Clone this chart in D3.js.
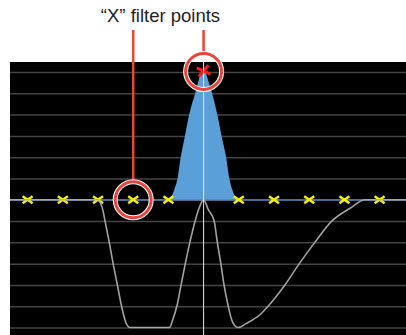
<!DOCTYPE html>
<html><head><meta charset="utf-8">
<script src="https://cdn.jsdelivr.net/npm/d3@7"></script>
<style>html,body{margin:0;padding:0;background:#fff;}svg{display:block;}</style>
</head><body>
<script>
// ---- data ----
const gridValues = [-6,-5,-4,-3,-2,-1,0,1,2,3,4,5,6];
const responseX = [-0.5, 2.0, 2.07, 2.14, 2.2, 2.32, 2.43, 2.55, 2.67, 2.8, 2.91, 4.03, 4.13, 4.24, 4.36, 4.48, 4.61, 4.76, 4.87, 5.0, 5.13, 5.3, 5.39, 5.49, 5.58, 5.7, 5.79, 5.88, 5.99, 6.22, 6.6, 6.83, 7.31, 7.72, 8.16, 8.64, 9.16, 9.59, 10.75];
const responseY = [0, 0, -0.15, -0.5, -1, -2, -3, -4, -5, -5.8, -6, -6, -5.6, -5, -4, -3, -2, -1, -0.4, 0, -0.45, -1, -2, -3, -4, -5, -5.6, -5.9, -6, -5.8, -5.4, -5, -4, -3, -2, -1, -0.4, 0, 0];
const bandX = [4.03, 4.09, 4.16, 4.26, 4.35, 4.47, 4.59, 4.76, 4.84, 4.94, 5.0, 5.05, 5.15, 5.24, 5.39, 5.51, 5.64, 5.73, 5.82, 5.89, 5.95];
const bandY = [0, 0.15, 0.45, 1, 2, 3, 4, 5, 5.5, 6, 6.1, 6, 5.5, 5, 4, 3, 2, 1, 0.45, 0.15, 0];
const pointX = [0,1,2,3,4,5,6,7,8,9,10];
const pointY = [0,0,0,0,0,6.05,0,0,0,0,0];
const highlighted = [3,5];
const titleText = "\u201CX\u201D filter points";

// ---- layout ----
const W = 406, H = 335;
const svg = d3.select("body").append("svg").attr("width", W).attr("height", H);
const x = d3.scaleLinear().domain([-0.5, 10.75]).range([10, 406]);
const y = d3.scaleLinear().domain([-6.35, 6.47]).range([335, 62]);

svg.append("rect").attr("x", x(-0.5)).attr("y", y(6.47))
  .attr("width", x(10.75)-x(-0.5)).attr("height", y(-6.35)-y(6.47)).attr("fill", "#000");

// gridlines
const gAxis = svg.append("g").attr("transform", `translate(${x(-0.5)},0)`)
  .call(d3.axisLeft(y).tickValues(gridValues).tickSize(-(x(10.75)-x(-0.5))).tickFormat(""));
gAxis.select(".domain").remove();
gAxis.selectAll(".tick line").attr("stroke", "#444").attr("stroke-width", 1.5);

// band area
const band = bandX.map((d,i)=>[d, bandY[i]]);
svg.append("path").datum(band)
  .attr("d", d3.area().x(d=>x(d[0])).y0(y(0)).y1(d=>y(d[1])).curve(d3.curveMonotoneX))
  .attr("fill", "#5a9fd8");
svg.append("line").attr("x1", x(-0.5)).attr("x2", x(10.75)).attr("y1", y(0)).attr("y2", y(0))
  .attr("stroke", "#4a90d9").attr("stroke-width", 1.2);

// markers
const mk = svg.append("g");
pointX.forEach((px,i)=>{
  const red = i===5;
  const hw = red?6:5, hh = red?4.5:3.5;
  const g = mk.append("g").attr("transform", `translate(${x(px)},${y(pointY[i])})${red?" rotate(-12)":""}`);
  g.append("path").attr("d", `M${-hw},${-hh}L${hw},${hh}M${-hw},${hh}L${hw},${-hh}`)
    .attr("stroke", red?"#ff1a1a":"#f5f000").attr("stroke-width", red?3:2.4).attr("fill","none");
});

// response curve
const resp = responseX.map((d,i)=>[d, responseY[i]]);
svg.append("path").datum(resp)
  .attr("d", d3.line().x(d=>x(d[0])).y(d=>y(d[1])).curve(d3.curveMonotoneX))
  .attr("fill","none").attr("stroke","#ababab").attr("stroke-width",1.6).attr("opacity",0.95);

// center vertical line
svg.append("line").attr("x1", x(5)).attr("x2", x(5)).attr("y1", y(6.47)).attr("y2", y(-6.35))
  .attr("stroke", "#e8e8e8").attr("stroke-width", 1);

// annotations
highlighted.forEach(i=>{
  const cx = x(pointX[i]), cy = y(pointY[i]) + (i===5?0.5:0), r = 18;
  svg.append("line").attr("x1", cx).attr("x2", cx).attr("y1", 30).attr("y2", cy - r)
    .attr("stroke", "#e8453c").attr("stroke-width", 2.5);
  svg.append("circle").attr("cx", cx).attr("cy", cy).attr("r", r)
    .attr("fill","none").attr("stroke","#fff").attr("stroke-width",5);
  svg.append("circle").attr("cx", cx).attr("cy", cy).attr("r", r)
    .attr("fill","none").attr("stroke","#e8453c").attr("stroke-width",3);
});

svg.append("text").attr("x", 160.5).attr("y", 22).attr("text-anchor","middle")
  .attr("font-family","Liberation Sans, Arial, sans-serif").attr("font-size", 18.5)
  .attr("fill","#222").text(titleText);
</script>
</body></html>
